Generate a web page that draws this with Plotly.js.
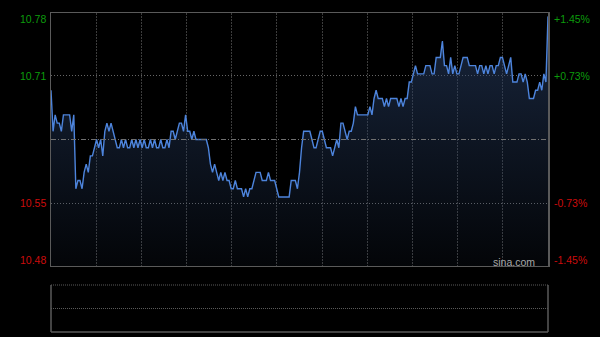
<!DOCTYPE html>
<html><head><meta charset="utf-8">
<script src="https://cdn.plot.ly/plotly-3.0.1.min.js"></script>
<style>html,body{margin:0;padding:0;background:#000;}#chart{width:600px;height:337px;}</style>
</head><body><div id="chart"></div>
<script>
const prevClose = 10.63;
const prices = [
10.69,10.64,10.66,10.65,10.65,10.64,10.66,10.66,10.66,10.66,
10.64,10.66,10.57,10.58,10.58,10.57,10.59,10.60,10.59,10.61,
10.61,10.62,10.63,10.62,10.63,10.61,10.64,10.65,10.64,10.65,
10.64,10.63,10.62,10.62,10.63,10.62,10.63,10.62,10.62,10.63,
10.62,10.63,10.62,10.63,10.62,10.63,10.62,10.62,10.63,10.62,
10.63,10.62,10.62,10.63,10.62,10.62,10.63,10.62,10.64,10.64,
10.63,10.64,10.65,10.65,10.64,10.66,10.64,10.64,10.63,10.64,
10.63,10.63,10.63,10.63,10.63,10.63,10.62,10.60,10.59,10.60,
10.59,10.58,10.59,10.58,10.59,10.58,10.58,10.57,10.57,10.58,
10.57,10.57,10.57,10.56,10.57,10.56,10.57,10.57,10.58,10.59,
10.59,10.59,10.58,10.58,10.58,10.59,10.58,10.58,10.58,10.57,
10.56,10.56,10.56,10.56,10.56,10.56,10.58,10.58,10.58,10.57,
10.59,10.62,10.64,10.64,10.64,10.64,10.63,10.62,10.62,10.63,
10.64,10.64,10.63,10.62,10.62,10.62,10.61,10.62,10.63,10.62,
10.65,10.65,10.64,10.63,10.64,10.64,10.65,10.67,10.66,10.66,
10.66,10.66,10.66,10.66,10.67,10.66,10.68,10.69,10.68,10.68,
10.68,10.67,10.68,10.67,10.68,10.68,10.68,10.68,10.67,10.68,
10.67,10.68,10.68,10.70,10.70,10.71,10.72,10.71,10.71,10.71,
10.71,10.72,10.72,10.72,10.71,10.71,10.73,10.73,10.73,10.75,
10.72,10.72,10.71,10.73,10.71,10.72,10.71,10.71,10.72,10.73,
10.73,10.73,10.72,10.72,10.72,10.72,10.71,10.72,10.72,10.71,
10.72,10.71,10.72,10.72,10.71,10.72,10.72,10.73,10.73,10.72,
10.71,10.72,10.73,10.70,10.70,10.70,10.71,10.71,10.70,10.71,
10.70,10.68,10.68,10.68,10.69,10.69,10.70,10.69,10.71,10.70,
10.78
];
const pctLevels = [0.0145, 0.0073, -0.0073, -0.0145];
const priceLabels = ['10.78', '10.71', '10.55', '10.48'];
const pctLabels = ['+1.45%', '+0.73%', '-0.73%', '-1.45%'];
const watermark = 'sina.com';

const minutes = prices.map((_, i) => i);
const yLo = prevClose * (1 - 0.0145), yHi = prevClose * (1 + 0.0145);
const mainBottom = 0.2069, volTop = 0.1473;
const nV = 11;
const vTicks = [];
for (let k = 1; k < nV; k++) vTicks.push(k * 240 / nV);

const GREEN = '#0c9c0c', RED = '#cc0c0c';
const annotations = [];
pctLevels.forEach((p, i) => {
  const y = prevClose * (1 + p);
  const col = p > 0 ? GREEN : RED;
  const ys = i === 0 ? -6 : (i === pctLevels.length - 1 ? 6 : 0);
  annotations.push({xref: 'paper', yref: 'y', x: 0, y: y, xanchor: 'right', yanchor: 'middle',
    xshift: -3, yshift: ys, text: priceLabels[i], showarrow: false,
    font: {family: 'Liberation Sans, Arial, sans-serif', size: 10.5, color: col}});
  annotations.push({xref: 'paper', yref: 'y', x: 1, y: y, xanchor: 'left', yanchor: 'middle',
    xshift: 4, yshift: ys, text: pctLabels[i], showarrow: false,
    font: {family: 'Liberation Sans, Arial, sans-serif', size: 10.5, color: col}});
});
annotations.push({xref: 'paper', yref: 'paper', x: 1, y: mainBottom, xanchor: 'right', yanchor: 'middle',
  xshift: -11, yshift: 4, text: watermark, showarrow: false,
  font: {family: 'Liberation Sans, Arial, sans-serif', size: 10.5, color: '#a8a8a8'}});

const shapes = [
  {type: 'line', xref: 'paper', yref: 'y', x0: 0, x1: 1, y0: prevClose, y1: prevClose,
   line: {color: '#707070', width: 1, dash: '5px,2px,1px,2px'}},
  {type: 'line', xref: 'paper', yref: 'paper', x0: 0, x1: 1, y0: volTop, y1: volTop,
   line: {color: '#5a5a5a', width: 1, dash: '1px,1px'}},
  {type: 'line', xref: 'paper', yref: 'paper', x0: 0, x1: 1, y0: volTop / 2, y1: volTop / 2,
   line: {color: '#5a5a5a', width: 1, dash: '1px,1px'}},
  {type: 'line', xref: 'paper', yref: 'paper', x0: 0, x1: 1, y0: 0, y1: 0,
   line: {color: '#5a5a5a', width: 1.5}},
  {type: 'line', xref: 'paper', yref: 'paper', x0: 0, x1: 0, y0: 0, y1: volTop,
   line: {color: '#5a5a5a', width: 1.5}},
  {type: 'line', xref: 'paper', yref: 'paper', x0: 1, x1: 1, y0: 0, y1: volTop,
   line: {color: '#5a5a5a', width: 1.5}}
];

const trace = {
  x: minutes, y: prices, type: 'scatter', mode: 'lines',
  line: {color: '#4d84dc', width: 1.4},
  fill: 'tozeroy',
  fillgradient: {type: 'vertical', start: yLo, stop: yHi,
    colorscale: [[0, 'rgba(40,62,100,0.08)'], [1, 'rgba(40,62,100,0.62)']]},
  hoverinfo: 'skip'
};

const layout = {
  width: 600, height: 337,
  margin: {l: 51, r: 52, t: 13, b: 5},
  paper_bgcolor: '#000', plot_bgcolor: '#000',
  showlegend: false,
  xaxis: {range: [0, 240], tickvals: vTicks, showticklabels: false, ticks: '',
    showgrid: true, gridcolor: '#3c3c3c', griddash: '2px,1px', gridwidth: 1,
    zeroline: false, showline: true, mirror: true, linecolor: '#5a5a5a', linewidth: 1.5,
    fixedrange: true},
  yaxis: {range: [yLo, yHi], domain: [mainBottom, 1],
    tickvals: [prevClose * (1 + pctLevels[1]), prevClose * (1 + pctLevels[2])],
    showticklabels: false, ticks: '',
    showgrid: true, gridcolor: '#666', griddash: '1px,2px', gridwidth: 1,
    zeroline: false, showline: true, mirror: true, linecolor: '#5a5a5a', linewidth: 1.5},
  annotations: annotations,
  shapes: shapes
};

Plotly.newPlot('chart', [trace], layout, {staticPlot: true, displayModeBar: false});
</script>
</body></html>
